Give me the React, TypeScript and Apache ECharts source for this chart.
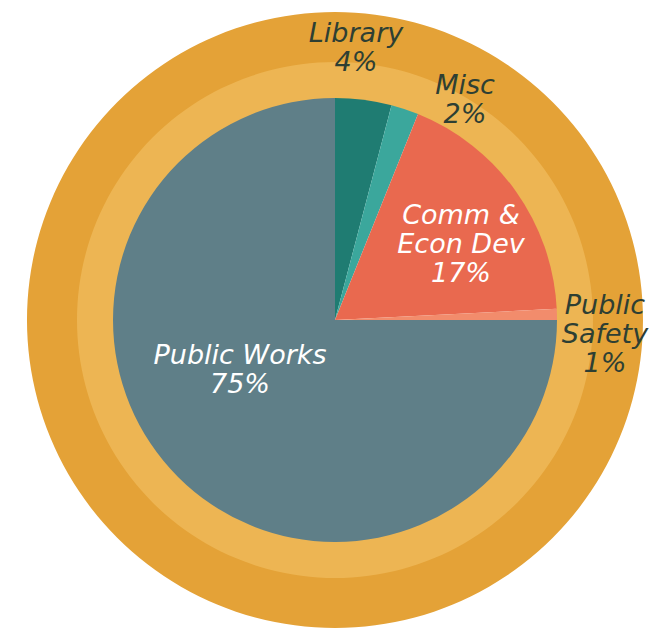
import React, { useEffect, useRef } from "react";
import * as echarts from "echarts";

const categories = ["Library", "Misc", "Comm &\nEcon Dev", "Public\nSafety", "Public Works"];
const values = [4.1, 2.0, 18.1, 0.8, 75.0];
const percentLabels = ["4%", "2%", "17%", "1%", "75%"];

const sliceColors = ["#1F7C72", "#3BA79C", "#E9694F", "#F28C6C", "#5F7F88"];
const labelColors = ["#2E3F33", "#2E3F33", "#FFFFFF", "#2E3F33", "#FFFFFF"];
const labelPos: [number, number][] = [
  [356, 47],
  [465, 99],
  [461, 243],
  [605, 333],
  [240, 369],
];

export default function App() {
  const ref = useRef<HTMLDivElement>(null);
  useEffect(() => {
    document.body.style.margin = "0";
    const chart = echarts.init(ref.current!, null, { renderer: "svg" });
    const center = [335, 320];
    chart.setOption({
      animation: false,
      backgroundColor: "#FFFFFF",
      series: [
        {
          type: "pie",
          silent: true,
          center,
          radius: [257, 308],
          label: { show: false },
          labelLine: { show: false },
          itemStyle: { color: "#E4A237" },
          data: [{ value: 1, name: "outer" }],
          z: 1,
        },
        {
          type: "pie",
          silent: true,
          center,
          radius: [221, 258],
          label: { show: false },
          labelLine: { show: false },
          itemStyle: { color: "#EDB553" },
          data: [{ value: 1, name: "inner" }],
          z: 1,
        },
        {
          type: "pie",
          center,
          radius: [0, 222],
          startAngle: 90,
          clockwise: true,
          z: 2,
          itemStyle: { borderWidth: 0 },
          labelLine: { show: false },
          label: {
            show: true,
            position: "inside",
            fontFamily: "DejaVu Sans",
            fontStyle: "italic",
            fontSize: 27,
            lineHeight: 29,
            align: "center",
          },
          labelLayout: (p: any) => ({
            x: labelPos[p.dataIndex][0],
            y: labelPos[p.dataIndex][1],
            align: "center",
            verticalAlign: "middle",
          }),
          data: categories.map((c, i) => ({
            name: c,
            value: values[i],
            itemStyle: { color: sliceColors[i] },
            label: {
              formatter: c + "\n" + percentLabels[i],
              color: labelColors[i],
            },
          })),
        },
      ],
    });
    return () => chart.dispose();
  }, []);
  return <div ref={ref} style={{ width: 669, height: 635 }} />;
}
